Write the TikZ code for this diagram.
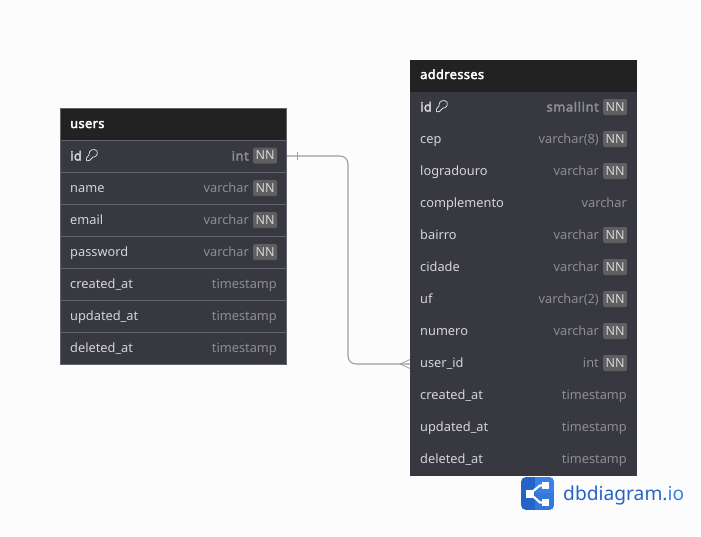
\documentclass[tikz,border=0pt]{standalone}
\usepackage{fontspec}
\setmainfont{Noto Sans}
\newfontfamily\negrito{Noto Sans}[FakeBold=2.8,LetterSpace=3]
\newfontfamily\negritotipo{Noto Sans}[FakeBold=2.8,LetterSpace=5]
\usetikzlibrary{calc}
\definecolor{fundo}{HTML}{FCFCFC}
\definecolor{cabecalho}{HTML}{222222}
\definecolor{corpo}{HTML}{373840}
\definecolor{borda}{HTML}{62636A}
\definecolor{nome}{HTML}{D6D6D8}
\definecolor{tipo}{HTML}{8E8E92}
\definecolor{selo}{HTML}{5F5F5F}
\definecolor{relacao}{HTML}{9C9CA8}
\definecolor{azul}{HTML}{2563C9}
\definecolor{azulclaro}{HTML}{3B80E6}
\tikzset{
  head/.style={fill=cabecalho,minimum width=227pt,minimum height=32pt,inner sep=0pt,outer sep=0pt},
  headtext/.style={anchor=base west,inner sep=0pt,text=white,font=\fontsize{12.8}{13}\negrito},
  row/.style={fill=corpo,minimum width=227pt,minimum height=32pt,inner sep=0pt,outer sep=0pt},
  coltext/.style={anchor=base west,inner sep=0pt,text=nome,font=\fontsize{12.8}{13}\selectfont},
  typetext/.style={anchor=base east,inner sep=0pt,text=tipo,font=\fontsize{12.8}{13}\selectfont},
  nnbadge/.style={fill=selo,rounded corners=1.5pt,minimum width=24pt,minimum height=16pt,inner sep=0pt,text=nome,font=\fontsize{12.5}{12.5}\selectfont},
  rel/.style={draw=relacao,line width=1.1pt},
  keyicon/.pic={
    \draw[nome,line width=.8pt,line join=round] (4.5,-2.5) -- (7,-5.5)
      .. controls (6.5,-11) and (12.5,-12.5) .. (15,-9.5)
      .. controls (16.5,-6) and (13.5,-3) .. (11,-3.5) -- (7.5,0) -- (4.5,.3) -- cycle;
  },
}
\begin{document}
\begin{tikzpicture}[x=1pt,y=-1pt]
  \useasboundingbox[fill=fundo] (0,0) rectangle (701,536);

  % TABLE USERS
  \node[head] (users) at (173.5,124) {};
  \node[headtext] (usersT) at (70,128) {users};
  \foreach \i/\nom/\typ/\nn in {1/name/varchar/1,2/email/varchar/1,3/password/varchar/1,
      4/created\_at/timestamp/0,5/updated\_at/timestamp/0,6/deleted\_at/timestamp/0}{
    \pgfmathsetmacro{\yy}{156+32*\i}
    \node[row] (U\i) at (173.5,\yy) {};
    \node[coltext] (U\i n) at (70,\yy+4.5) {\nom};
    \ifnum\nn=1
      \node[typetext] (U\i t) at (249,\yy+4.5) {\typ};
      \node[nnbadge] (U\i b) at (265,\yy) {NN};
    \else
      \node[typetext] (U\i t) at (277,\yy+4.5) {\typ};
    \fi
  }
  \node[row] (U0) at (173.5,156) {};
  \node[coltext,font=\fontsize{12.8}{13}\negrito] (U0n) at (70,160.5) {id};
  \node[typetext,font=\fontsize{12.8}{13}\negritotipo] (U0t) at (249,160.5) {int};
  \node[nnbadge] (U0b) at (265,155.5) {NN};
  \foreach \i in {0,...,6}{
    \draw[borda,line width=.8pt] (60,140+32*\i) -- (287,140+32*\i);
  }
  \draw[borda,line width=.8pt] (60.4,108.4) rectangle (286.6,364);

  % TABLE ADDRESSES
  \node[head] (addresses) at (523.5,76) {};
  \node[headtext] (addressesT) at (420,79) {addresses};
  \foreach \i/\nom/\typ/\nn in {1/cep/varchar(8)/1,2/logradouro/varchar/1,3/complemento/varchar/0,
      4/bairro/varchar/1,5/cidade/varchar/1,6/uf/varchar(2)/1,7/numero/varchar/1,8/user\_id/int/1,
      9/created\_at/timestamp/0,10/updated\_at/timestamp/0,11/deleted\_at/timestamp/0}{
    \pgfmathsetmacro{\yy}{108+32*\i}
    \node[row] (A\i) at (523.5,\yy) {};
    \node[coltext] (A\i n) at (420,\yy+3.5) {\nom};
    \ifnum\nn=1
      \node[typetext] (A\i t) at (599,\yy+3.5) {\typ};
      \node[nnbadge] (A\i b) at (615,\yy-1) {NN};
    \else
      \node[typetext] (A\i t) at (627,\yy+3.5) {\typ};
    \fi
  }
  \node[row] (A0) at (523.5,108) {};
  \node[coltext,font=\fontsize{12.8}{13}\negrito] (A0n) at (420,111.5) {id};
  \node[typetext,font=\fontsize{12.8}{13}\negritotipo] (A0t) at (599,111.5) {smallint};
  \node[nnbadge] (A0b) at (615,107) {NN};

  % KEY ICONS
  \pic (keyU) at (U0n.base east) {keyicon};
  \pic (keyA) at (A0n.base east) {keyicon};

  % RELATION
  \coordinate (bendA) at (348,156);
  \coordinate (bendB) at (348,364);
  \draw[rel,rounded corners=8pt] (U0.east) -- (bendA) -- (bendB) -- (A8.west);
  \draw[relacao,line width=.8pt] ($(U0.east)+(10,-4)$) -- ($(U0.east)+(10,4)$); % one
  \draw[relacao,line width=.8pt] ($(A8.west)+(0,-4.5)$) -- ($(A8.west)+(-10,0)$) -- ($(A8.west)+(0,4.5)$); % many

  % LOGO
  \begin{scope}
    \clip[rounded corners=5pt] (521,477) rectangle (554,510);
    \fill[azul] (521,477) rectangle (554,510);
    \fill[azulclaro] (535,477) rectangle (554,493);
    \fill[azulclaro!70!azul] (535,493) rectangle (554,510);
  \end{scope}
  \draw[white,line width=2.2pt] (545,485.5) -- (540,485.5) -- (530,493.5) -- (540,502.5) -- (545,502.5);
  \fill[white] (526,490) rectangle (533.5,497.5);
  \fill[white] (541.5,482) rectangle (549,489);
  \fill[white] (541.5,499) rectangle (549,506);
  \node[anchor=base west,inner sep=0pt,text=azul,font=\fontsize{19.2}{19.2}\selectfont] (logoT) at (563,500) {dbdiagram.\textcolor{azulclaro}{io}};
\end{tikzpicture}
\end{document}
